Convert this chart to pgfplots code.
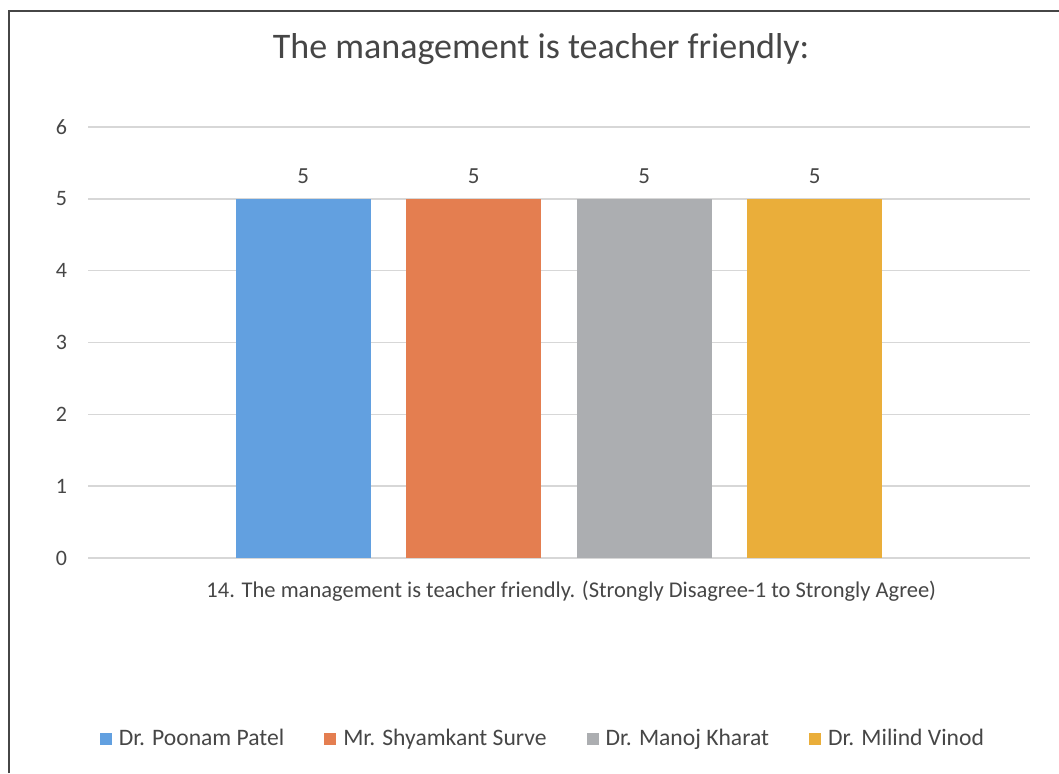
\documentclass[border=0pt]{standalone}
\usepackage{fontspec}
\setmainfont{Carlito}
\usepackage{pgfplots}
\pgfplotsset{compat=1.18}

\definecolor{cBlue}{RGB}{98,160,224}
\definecolor{cOrange}{RGB}{228,126,80}
\definecolor{cGray}{RGB}{172,174,177}
\definecolor{cYellow}{RGB}{234,174,58}
\definecolor{cText}{RGB}{70,70,70}
\definecolor{cGrid}{RGB}{215,215,215}

\begin{document}
\begin{tikzpicture}
  % page = 1059 x 773 px at 0.5pt per px
  \useasboundingbox (0,0) rectangle (529.5pt,386.5pt);
  \draw[color=cText, line width=1pt] (4.5pt,0) -- (4.5pt,381pt) -- (529.5pt,381pt);

  \begin{axis}[
      at={(44pt,107.5pt)}, anchor=south west,
      scale only axis,
      width=471pt, height=215.5pt,
      ybar, bar shift=0pt, bar width=0.79,
      xmin=-2.762, xmax=2.762,
      ymin=0, ymax=6, ytick={0,...,6},
      xtick=\empty,
      axis line style={draw=none},
      major tick length=0pt,
      ymajorgrids,
      grid style={cGrid, line width=0.8pt},
      /pgf/number format/assume math mode=true,
      yticklabel style={font=\fontsize{11}{13}\selectfont, color=cText, xshift=-7pt},
      title={The management is teacher friendly:},
      title style={font=\fontsize{18}{21}\selectfont, color=cText,
                   at={(rel axis cs:0.481,1.153)}, anchor=center},
      xlabel={14. The management is teacher friendly. (Strongly Disagree-1 to Strongly Agree)},
      xlabel style={font=\fontsize{11.25}{13.5}\selectfont, color=cText,
                    at={(rel axis cs:0.513,-0.078)}, anchor=center},
      nodes near coords,
      every node near coord/.append style={font=\fontsize{11.5}{13}\selectfont, color=cText, yshift=4pt},
      legend image code/.code={\fill[#1, draw=none] (0pt,-3pt) rectangle (6pt,3pt);},
      legend columns=-1,
      legend style={draw=none, fill=none, font=\fontsize{11.8}{14}\selectfont, text=cText,
                    at={(rel axis cs:0.484,-0.42)}, anchor=center,
                    /tikz/every even column/.append style={column sep=18pt},
                    /tikz/every odd column/.append style={column sep=1.5pt}},
    ]
    \addplot[fill=cBlue, draw=none] coordinates {(-1.5,5)};
    \addplot[fill=cOrange, draw=none] coordinates {(-0.5,5)};
    \addplot[fill=cGray, draw=none] coordinates {(0.5,5)};
    \addplot[fill=cYellow, draw=none] coordinates {(1.5,5)};
    \legend{Dr. Poonam Patel, Mr. Shyamkant Surve, Dr. Manoj Kharat, Dr. Milind Vinod}
  \end{axis}
\end{tikzpicture}
\end{document}
